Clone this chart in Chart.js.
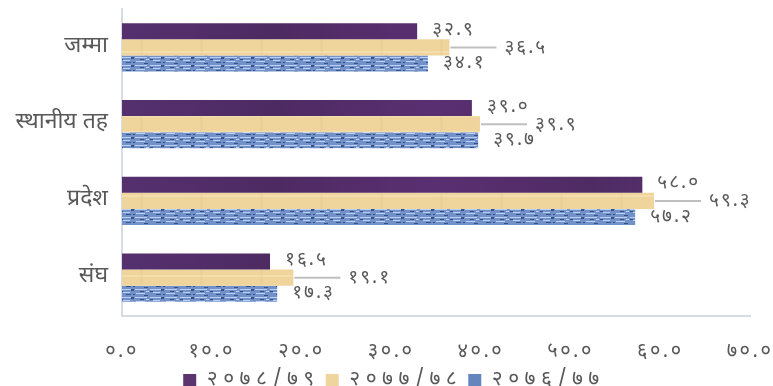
<!DOCTYPE html>
<html>
<head>
<meta charset="utf-8">
<script src="https://cdn.jsdelivr.net/npm/chart.js@4.4.1/dist/chart.umd.min.js"></script>
<style>
    html, body { margin: 0; padding: 0; background: #ffffff; }
    #wrap { width: 773px; height: 386px; }
</style>
</head>
<body>
<div id="wrap"><canvas id="mainChart"></canvas></div>
<script>
// 数据
const categories = ['जम्मा', 'स्थानीय तह', 'प्रदेश', 'संघ'];
const seriesNames = ['२०७८/७९', '२०७७/७८', '२०७६/७७'];
const values7879 = [32.9, 39.0, 58.0, 16.5];
const values7778 = [36.5, 39.9, 59.3, 19.1];
const values7677 = [34.1, 39.7, 57.2, 17.3];
const xTicks = [0, 10, 20, 30, 40, 50, 60, 70];

const FONT = '"Noto Sans Devanagari", "Lohit Devanagari", "Mangal", "Noto Sans", sans-serif';
const TEXT_COLOR = '#595959';

// 阿拉伯数字 -> 天城文数字
function toDeva(str) {
    const digits = '०१२३४५६७८९';
    return String(str).replace(/[0-9]/g, d => digits[+d]);
}

// 字距: 刻度 20px, 图例 21px
function spacingFor(font) {
    if (font.indexOf('20px') >= 0) return '2.5px';
    if (font.indexOf('21px') >= 0) return '5.5px';
    return '0px';
}

// 纹理填充
function purpleFill(ctx) {
    const g = ctx.createLinearGradient(120, 0, 750, 0);
    g.addColorStop(0, '#55306f');
    g.addColorStop(0.25, '#4e2a62');
    g.addColorStop(0.5, '#5a2f72');
    g.addColorStop(0.75, '#4f2b63');
    g.addColorStop(1, '#5b3478');
    return g;
}

function beigeFill(ctx) {
    const c = document.createElement('canvas');
    c.width = 60; c.height = 16;
    const p = c.getContext('2d');
    p.fillStyle = '#efd49c';
    p.fillRect(0, 0, 60, 16);
    p.fillStyle = 'rgba(255,240,210,0.35)';
    p.fillRect(0, 3, 60, 2);
    p.fillStyle = 'rgba(215,180,120,0.12)';
    p.fillRect(20, 0, 3, 16);
    return ctx.createPattern(c, 'repeat');
}

function blueFill(ctx) {
    const c = document.createElement('canvas');
    c.width = 30; c.height = 8;
    const p = c.getContext('2d');
    p.fillStyle = '#7391c9';
    p.fillRect(0, 0, 30, 8);
    p.fillStyle = '#bcd0f3';
    p.fillRect(0, 1, 11, 1);
    p.fillRect(15, 1, 12, 1);
    p.fillRect(3, 4, 7, 1);
    p.fillRect(16, 5, 9, 1);
    p.fillRect(26, 3, 3, 1);
    p.fillStyle = '#34528a';
    p.fillRect(0, 3, 3, 1);
    p.fillRect(11, 1, 3, 2);
    p.fillRect(20, 3, 4, 1);
    p.fillRect(6, 6, 5, 1);
    p.fillRect(24, 7, 4, 1);
    p.fillRect(13, 6, 2, 1);
    return ctx.createPattern(c, 'repeat');
}

// 数据标签插件
const barLabels = {
    id: 'barLabels',
    afterLayout(chart) {
        // 图例整体右移
        chart.legend.left += 17;
        chart.legend.right += 17;
    },
    afterDatasetsDraw(chart) {
        const ctx = chart.ctx;
        const m0 = chart.getDatasetMeta(0).data;
        const m1 = chart.getDatasetMeta(1).data;
        const m2 = chart.getDatasetMeta(2).data;
        ctx.save();
        ctx.font = '19px ' + FONT;
        ctx.letterSpacing = '2px';
        ctx.fillStyle = TEXT_COLOR;
        ctx.textAlign = 'left';
        ctx.textBaseline = 'middle';
        categories.forEach((c, i) => {
            ctx.fillText(toDeva(values7879[i].toFixed(1)), m0[i].x + 15, m0[i].y);
            ctx.fillText(toDeva(values7677[i].toFixed(1)), m2[i].x + 15, m2[i].y + 1);
            // 引导线
            ctx.strokeStyle = '#bfbfbf';
            ctx.lineWidth = 2;
            ctx.beginPath();
            ctx.moveTo(m1[i].x + 1, m1[i].y);
            ctx.lineTo(m1[i].x + 47, m1[i].y);
            ctx.stroke();
            ctx.fillText(toDeva(values7778[i].toFixed(1)), m1[i].x + 55, m1[i].y + 2);
        });
        ctx.restore();
    }
};

const ctx = document.getElementById('mainChart').getContext('2d');

// 按字号设置字距
const fontDesc = Object.getOwnPropertyDescriptor(CanvasRenderingContext2D.prototype, 'font');
Object.defineProperty(ctx, 'font', {
    get() { return fontDesc.get.call(this); },
    set(v) { fontDesc.set.call(this, v); this.letterSpacing = spacingFor(v); }
});

const fills = [purpleFill(ctx), beigeFill(ctx), blueFill(ctx)];
const legendColors = ['#5b3470', '#efd49e', '#6585bd'];

new Chart(ctx, {
    type: 'bar',
    data: {
        labels: categories,
        datasets: [values7879, values7778, values7677].map((v, k) => ({
            label: seriesNames[k],
            data: v,
            backgroundColor: fills[k],
            borderWidth: 0,
            barPercentage: 1.0,
            categoryPercentage: 0.63
        }))
    },
    options: {
        indexAxis: 'y',
        responsive: true,
        maintainAspectRatio: false,
        animation: false,
        layout: { padding: { top: 9, right: 23, left: 4, bottom: -16 } },
        plugins: {
            tooltip: { enabled: false },
            legend: {
                display: true,
                position: 'bottom',
                labels: {
                    boxWidth: 13,
                    boxHeight: 15,
                    padding: 6,
                    color: TEXT_COLOR,
                    font: { family: FONT, size: 21 },
                    generateLabels: (chart) => seriesNames.map((n, k) => ({
                        text: n,
                        fillStyle: legendColors[k],
                        strokeStyle: legendColors[k],
                        lineWidth: 0,
                        fontColor: TEXT_COLOR,
                        datasetIndex: k
                    }))
                }
            }
        },
        scales: {
            x: {
                min: 0,
                max: 70,
                afterBuildTicks: (scale) => { scale.ticks = xTicks.map(v => ({ value: v })); },
                afterFit: (scale) => { scale.height = 49; scale.paddingLeft = 0; scale.paddingRight = 0; },
                grid: { display: false, drawTicks: false },
                border: { display: true, color: '#d9dde3', width: 2 },
                ticks: {
                    padding: 25,
                    maxRotation: 0,
                    autoSkip: false,
                    color: TEXT_COLOR,
                    font: { family: FONT, size: 20 },
                    callback: (v) => toDeva(Number(v).toFixed(1))
                }
            },
            y: {
                afterFit: (scale) => { scale.width = 118; scale.paddingTop = 0; scale.paddingBottom = 0; },
                grid: { display: false, drawTicks: false },
                border: { display: true, color: '#d6dce5', width: 2 },
                ticks: {
                    padding: 14,
                    color: TEXT_COLOR,
                    font: { family: FONT, size: 23 }
                }
            }
        }
    },
    plugins: [barLabels]
});
</script>
</body>
</html>
